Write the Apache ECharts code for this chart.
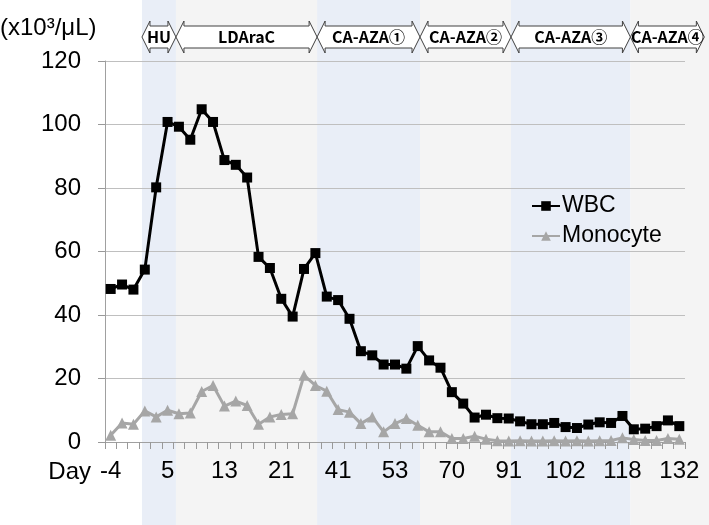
<!DOCTYPE html>
<html>
<head>
<meta charset="utf-8">
<script src="https://cdn.jsdelivr.net/npm/echarts@6/dist/echarts.min.js"></script>
<style>
  html, body { margin: 0; padding: 0; background: #fff; }
  #main { width: 709px; height: 525px; }
</style>
</head>
<body>
<div id="main"></div>
<script>
// sample number along the x axis (one per blood count)
const samples = Array.from({ length: 51 }, (_, i) => String(i + 1));
// day labels shown every 5th sample
const dayLabels = ['-4', '5', '13', '21', '41', '53', '70', '91', '102', '118', '132'];

const wbc = [
  48.2, 49.6, 48.0, 54.3, 80.2, 100.8, 99.3, 95.2, 104.8, 100.8,
  88.8, 87.3, 83.3, 58.3, 54.8, 45.1, 39.5, 54.5, 59.5, 45.8,
  44.7, 38.8, 28.6, 27.3, 24.4, 24.4, 23.1, 30.2, 25.7, 23.4,
  15.7, 12.1, 7.7, 8.6, 7.5, 7.4, 6.5, 5.6, 5.6, 6.0,
  4.7, 4.4, 5.5, 6.2, 6.0, 8.2, 4.0, 4.2, 5.0, 6.8, 5.0
];
const monocyte = [
  2.1, 6.0, 5.6, 9.8, 7.9, 10.0, 8.9, 9.1, 15.9, 17.8,
  11.3, 12.9, 11.5, 5.6, 7.9, 8.7, 8.9, 21.0, 17.8, 16.0,
  10.2, 9.4, 5.8, 7.9, 3.2, 5.8, 7.4, 5.3, 3.2, 3.2,
  1.1, 1.1, 1.8, 0.9, 0.4, 0.3, 0.4, 0.3, 0.3, 0.4,
  0.3, 0.4, 0.3, 0.4, 0.5, 1.3, 0.8, 0.5, 0.5, 1.1, 0.9
];

// treatment phases, edges in sample units (0 = left edge of first sample)
const phaseNames = ['HU', 'LDAraC', 'CA-AZA①', 'CA-AZA②', 'CA-AZA③', 'CA-AZA④'];
const phaseEdges = [3.25, 6.24, 18.65, 27.7, 35.7, 46.2, 52.7];
const phaseColors = ['#e9eef7', '#f4f4f4', '#e9eef7', '#f4f4f4', '#e9eef7', '#f4f4f4'];

var myChart = echarts.init(document.getElementById('main'), null, {
  width: 709,
  height: 525,
});

const axisFont = {
  color: '#000',
  fontFamily: 'Liberation Sans',
  fontSize: 24,
};

let option = {
  animation: false,
  grid: {
    left: 105,
    right: 24,
    top: 61,
    bottom: 83,
    containLabel: false
  },
  legend: {
    orient: 'vertical',
    left: 526,
    top: 188,
    itemWidth: 28,
    itemHeight: 12,
    itemGap: 4,
    textStyle: {
      color: '#000',
      fontFamily: 'Liberation Sans',
      fontSize: 23,
      lineHeight: 26,
      padding: [0, 0, 0, -3]
    },
    data: ['WBC', 'Monocyte']
  },
  xAxis: {
    type: 'category',
    data: samples,
    boundaryGap: true,
    axisLine: {
      show: true,
      lineStyle: { color: '#a0a0a0', width: 1 }
    },
    axisTick: {
      show: true,
      inside: false,
      interval: 0,
      length: 7,
      lineStyle: { color: '#999999', width: 1 }
    },
    axisLabel: {
      interval: 4,
      margin: 17,
      ...axisFont,
      formatter: function (value, index) {
        return dayLabels[index / 5] || '';
      }
    },
    splitLine: { show: false }
  },
  yAxis: {
    type: 'value',
    min: 0,
    max: 120,
    interval: 20,
    axisLine: {
      show: true,
      lineStyle: { color: '#a0a0a0', width: 1 }
    },
    axisTick: {
      show: true,
      inside: false,
      length: 7,
      lineStyle: { color: '#999999', width: 1 }
    },
    axisLabel: {
      margin: 24,
      ...axisFont
    },
    splitLine: {
      lineStyle: { color: '#bfbfbf', width: 1 }
    }
  },
  series: [
    {
      name: 'WBC',
      type: 'line',
      data: wbc,
      color: '#000',
      symbol: 'rect',
      symbolSize: 10,
      showAllSymbol: true,
      lineStyle: { width: 3, color: '#000' },
      itemStyle: { color: '#000' },
      z: 4
    },
    {
      name: 'Monocyte',
      type: 'line',
      data: monocyte,
      color: '#a6a6a6',
      symbol: 'triangle',
      symbolSize: 11,
      showAllSymbol: true,
      lineStyle: { width: 3, color: '#a6a6a6' },
      itemStyle: { color: '#a6a6a6' },
      z: 3
    }
  ]
};

myChart.setOption(option);

// background bands and phase arrows, placed through the category axis
const c0 = myChart.convertToPixel({ xAxisIndex: 0 }, samples[0]);
const c1 = myChart.convertToPixel({ xAxisIndex: 0 }, samples[1]);
const step = c1 - c0;
const edgeX = k => c0 - step / 2 + k * step;

const yTop = 21, bTop = 26, yMid = 37, bBot = 48, yBot = 53, head = 8;
let graphics = [];

phaseNames.forEach((name, i) => {
  const x1 = edgeX(phaseEdges[i]);
  let x2 = edgeX(phaseEdges[i + 1]);
  const bandRight = i === phaseNames.length - 1 ? 709 : x2;
  graphics.push({
    type: 'rect',
    z: -10,
    silent: true,
    shape: { x: x1, y: 0, width: bandRight - x1, height: 525 },
    style: { fill: phaseColors[i] }
  });
  graphics.push({
    type: 'polygon',
    z: 10,
    shape: {
      points: [
        [x1, yMid], [x1 + head, yTop], [x1 + head, bTop], [x2 - head, bTop],
        [x2 - head, yTop], [x2, yMid], [x2 - head, yBot], [x2 - head, bBot],
        [x1 + head, bBot], [x1 + head, yBot]
      ]
    },
    style: { fill: '#fff', stroke: '#404040', lineWidth: 1 }
  });
  graphics.push({
    type: 'text',
    z: 11,
    x: (x1 + x2) / 2,
    y: yMid,
    style: {
      text: name,
      fill: '#000',
      font: 'bold 16px "Noto Sans CJK JP"',
      align: 'center',
      verticalAlign: 'middle'
    }
  });
});

graphics.push({
  type: 'text',
  z: 11,
  x: 0,
  y: 28,
  style: {
    text: '(x10³/μL)',
    fill: '#000',
    font: '24px "Liberation Sans"',
    align: 'left',
    verticalAlign: 'middle'
  }
});
graphics.push({
  type: 'text',
  z: 11,
  x: 91,
  y: 472,
  style: {
    text: 'Day',
    fill: '#000',
    font: '24px "Liberation Sans"',
    align: 'right',
    verticalAlign: 'middle'
  }
});

myChart.setOption({ graphic: graphics });
</script>
</body>
</html>
